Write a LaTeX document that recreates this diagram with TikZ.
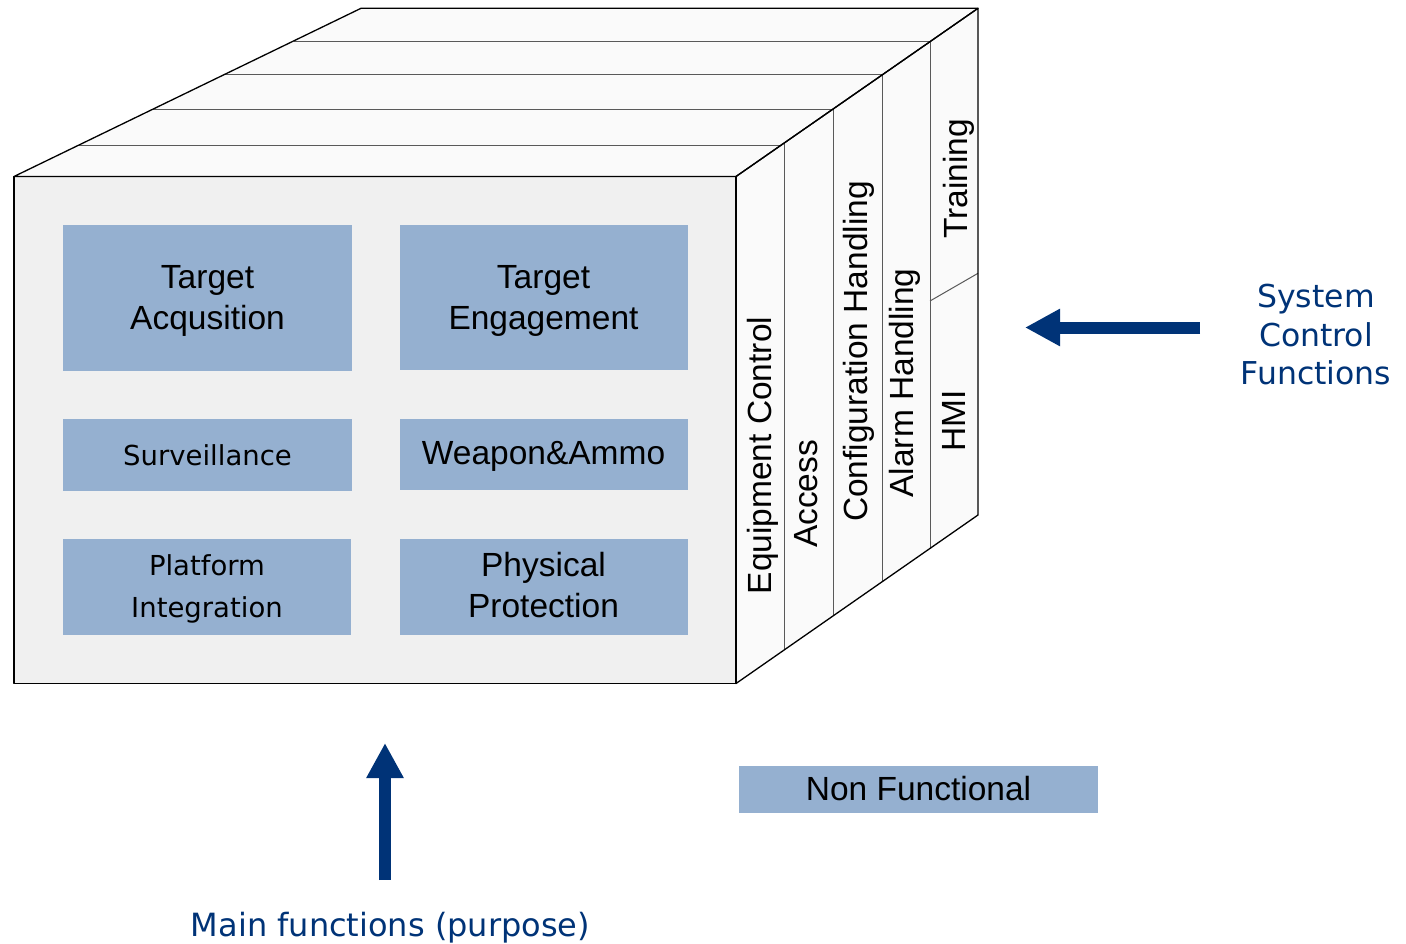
\documentclass[tikz,border=0pt]{standalone}
\usepackage{fontspec}
\setmainfont{Liberation Sans}
\newfontfamily\dejavu{DejaVu Sans}
\usetikzlibrary{arrows.meta}
\definecolor{boxblue}{RGB}{149,176,208}
\definecolor{navy}{RGB}{0,51,119}
\definecolor{frontgray}{RGB}{240,240,240}
\definecolor{sidegray}{RGB}{250,250,250}
\begin{document}
\begin{tikzpicture}[x=1pt,y=-1pt,
  edge/.style={draw=black, line width=1.3pt, line join=round},
  stripline/.style={draw=black!65, line width=1pt},
  fbox/.style={fill=boxblue, draw=none, inner sep=0pt},
  boxtext/.style={inner sep=0pt, align=center, text=black},
  arialtxt/.style={font=\fontsize{33.5}{41}\selectfont},
  dvtxt/.style={font=\dejavu\fontsize{27.5}{42}\selectfont},
  sidelabel/.style={rotate=90, anchor=base, inner sep=0pt, font=\fontsize{33.5}{40}\selectfont, text=black},
  bluetxt/.style={text=navy, inner sep=0pt, align=center, font=\dejavu\fontsize{31.5}{38.5}\selectfont},
  bigarrow/.style={draw=navy, line width=12pt, -{Triangle[length=35pt,width=35pt]}}
]
\useasboundingbox (0,0) rectangle (1406,944);

% cube corners
\coordinate (F1) at (14,176.5);
\coordinate (F2) at (736,176.5);
\coordinate (F3) at (736,683.5);
\coordinate (F4) at (14,683.5);
\coordinate (B1) at (361,8.3);
\coordinate (B2) at (978,8.3);
\coordinate (B3) at (978,515);

% faces
\fill[sidegray] (F1) -- (B1) -- (B2) -- (F2) -- cycle;
\fill[sidegray] (F2) -- (B2) -- (B3) -- (F3) -- cycle;
\fill[frontgray] (F1) rectangle (F3);

% strip lines on top face
\draw[stripline] (78,145.5) -- (782,145.5);
\draw[stripline] (151,110) -- (832,110);
\draw[stripline] (224,74.7) -- (882,74.7);
\draw[stripline] (294,41.5) -- (930,41.5);
% strip lines on right face
\draw[stripline] (784,143.1) -- (784,650.3);
\draw[stripline] (833,109.1) -- (833,616.3);
\draw[stripline] (882,75.0) -- (882,582.4);
\draw[stripline] (930,41.7) -- (930,549.1);
\draw[stripline] (930,301) -- (978,273.3);

% outlines
\draw[edge] (F1) -- (B1) -- (B2) -- (F2) -- cycle;
\draw[edge] (F2) -- (B2) -- (B3) -- (F3) -- cycle;
\draw[edge] (F1) rectangle (F3);

% function boxes
\node[fbox, minimum width=289pt, minimum height=146pt] (ta) at (207.5,297.8) {};
\node[fbox, minimum width=288pt, minimum height=145pt] (te) at (543.5,297.5) {};
\node[fbox, minimum width=289pt, minimum height=72pt] (sv) at (207.5,455) {};
\node[fbox, minimum width=288pt, minimum height=71pt] (wa) at (543.5,454.5) {};
\node[fbox, minimum width=288pt, minimum height=96pt] (pi) at (207,587) {};
\node[fbox, minimum width=288pt, minimum height=96pt] (pp) at (543.5,587) {};
\node[fbox, minimum width=359pt, minimum height=47pt] (nf) at (918.5,789.5) {};

\node[boxtext, arialtxt] (tat) at ([yshift=-3pt]ta.center) {Target\\Acqusition};
\node[boxtext, arialtxt] (tet) at ([yshift=-3pt]te.center) {Target\\Engagement};
\node[boxtext, dvtxt] (svt) at (sv.center) {Surveillance};
\node[boxtext, arialtxt] (wat) at ([yshift=-2pt]wa.center) {Weapon\&Ammo};
\node[boxtext, dvtxt] (pit) at ([yshift=-2pt]pi.center) {Platform\\Integration};
\node[boxtext, arialtxt] (ppt) at ([yshift=2pt]pp.center) {Physical\\Protection};
\node[boxtext, arialtxt] (nft) at ([yshift=1pt]nf.center) {Non Functional};

% side labels
\node[sidelabel] (ec) at (771,455.5) {Equipment Control};
\node[sidelabel] (ac) at (817,494) {Access};
\node[sidelabel] (ch) at (867,351.5) {Configuration Handling};
\node[sidelabel] (ah) at (913,383) {Alarm Handling};
\node[sidelabel] (tr) at (967,179) {Training};
\node[sidelabel] (hmi) at (965,421) {HMI};

% blue labels and arrows
\node[bluetxt] (scf) at (1316,335) {System\\Control\\Functions};
\node[bluetxt, anchor=base, font=\dejavu\fontsize{32}{38}\selectfont] (mf) at (390.5,936) {Main functions (purpose)};
\coordinate (la1) at (1200,327.5);
\coordinate (la2) at (1025,327.5);
\coordinate (ua1) at (385,880);
\coordinate (ua2) at (385,743);
\draw[bigarrow] (la1) -- (la2);
\draw[bigarrow] (ua1) -- (ua2);
\end{tikzpicture}
\end{document}
